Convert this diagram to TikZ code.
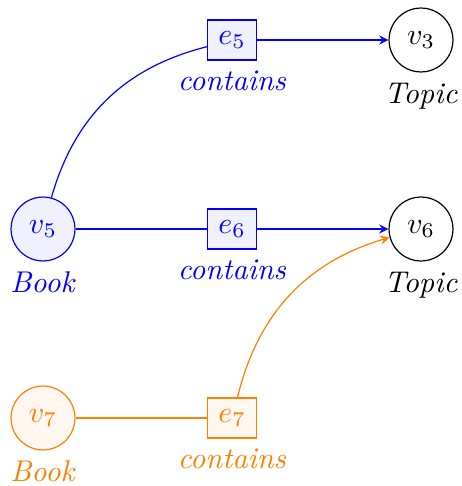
\documentclass[tikz,border=0pt]{standalone}
\usetikzlibrary{arrows.meta}
\begin{document}
\begin{tikzpicture}[x=0.33333pt, y=-0.33333pt, >=stealth,
  vert/.style={circle, draw, minimum size=21.3pt, inner sep=0pt},
  hyper/.style={rectangle, draw, minimum width=16.3pt, minimum height=13.3pt, inner sep=0pt},
  bluepart/.style={draw=blue, fill=blue!6, text=blue},
  orangepart/.style={draw=orange, fill=orange!6, text=orange},
  plainpart/.style={draw=black, fill=white, text=black},
  bluelink/.style={blue},
  orangelink/.style={orange}
]
\useasboundingbox (0,0) rectangle (461,486);

% vertices
\node[vert, plainpart, label={below:\textit{Topic}}] (v3) at (421,40) {$v_3$};
\node[vert, plainpart, label={below:\textit{Topic}}] (v6) at (421,229) {$v_6$};
\node[vert, bluepart, label={[text=blue]below:\textit{Book}}] (v5) at (43,229) {$v_5$};
\node[vert, orangepart, label={[text=orange]below:\textit{Book}}] (v7) at (43,418) {$v_7$};

% relation nodes
\node[hyper, bluepart, label={[text=blue]below:\textit{contains}}] (e5) at (232,40) {$e_5$};
\node[hyper, bluepart, label={[text=blue]below:\textit{contains}}] (e6) at (232,229) {$e_6$};
\node[hyper, orangepart, label={[text=orange]below:\textit{contains}}] (e7) at (232,418) {$e_7$};

% connectors
\draw[bluelink] (v5) to[bend left=30] (e5);
\draw[bluelink, ->] (e5) -- (v3);
\draw[bluelink] (v5) -- (e6);
\draw[bluelink, ->] (e6) -- (v6);
\draw[orangelink] (v7) -- (e7);
\draw[orangelink, ->] (e7) to[bend left=30] (v6);
\end{tikzpicture}
\end{document}
